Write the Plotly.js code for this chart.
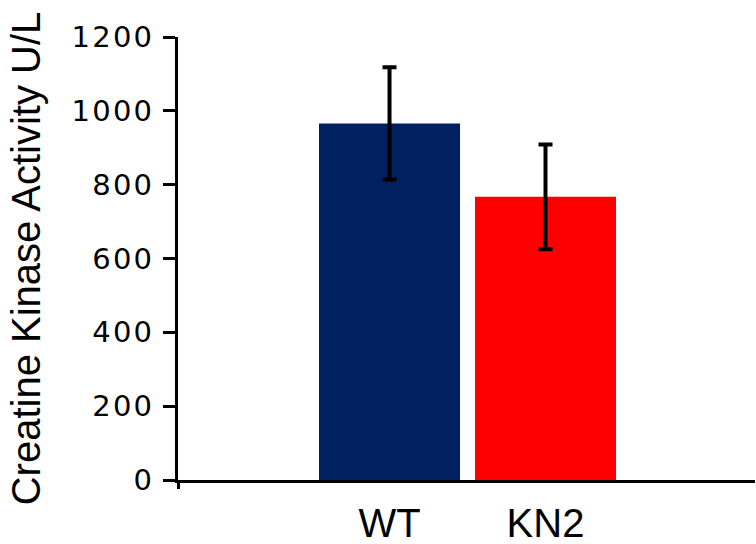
<!DOCTYPE html>
<html>
<head>
<meta charset="utf-8">
<script src="https://cdn.plot.ly/plotly-3.0.1.min.js"></script>
<style>
  html, body { margin: 0; padding: 0; background: #fff; }
  #chart { width: 756px; height: 544px; }
  .ytick text { letter-spacing: 2.2px; }
</style>
</head>
<body>
<div id="chart"></div>
<script>
const categories = ['WT', 'KN2'];
const values = [966, 767];
const errors = [152, 142];
const barColors = ['#002060', '#FF0000'];
const yTickVals = [0, 200, 400, 600, 800, 1000, 1200];
const yTitle = 'Creatine Kinase Activity U/L';

const xRange = [-1.356, 2.343];

const traces = [
  {
    type: 'bar',
    x: categories,
    y: values,
    marker: { color: barColors, line: { width: 0 } },
    error_y: { type: 'data', array: errors, visible: true, color: '#000000', thickness: 4, width: 7 },
    hoverinfo: 'none',
    showlegend: false
  },
  {
    type: 'scatter',
    x: [xRange[0]],
    y: [0],
    xaxis: 'x2',
    mode: 'none',
    hoverinfo: 'none',
    showlegend: false
  }
];

const layout = {
  width: 756,
  height: 544,
  margin: { l: 178, r: 1, t: 37, b: 64, pad: 0 },
  paper_bgcolor: '#ffffff',
  plot_bgcolor: '#ffffff',
  bargap: 0.096,
  showlegend: false,
  xaxis: {
    type: 'category',
    range: xRange,
    showgrid: false,
    zeroline: false,
    showline: true,
    linecolor: '#000000',
    linewidth: 3,
    ticks: '',
    ticklabelstandoff: 6,
    tickfont: { family: 'Liberation Sans, Arial, sans-serif', size: 40, color: '#000000' },
    fixedrange: true
  },
  xaxis2: {
    overlaying: 'x',
    anchor: 'y',
    side: 'bottom',
    range: xRange,
    showgrid: false,
    zeroline: false,
    showline: false,
    tickmode: 'array',
    tickvals: [xRange[0]],
    ticks: 'outside',
    ticklen: 8,
    tickwidth: 3,
    tickcolor: '#000000',
    showticklabels: false,
    fixedrange: true
  },
  yaxis: {
    range: [0, 1200],
    tickmode: 'array',
    tickvals: yTickVals,
    showgrid: false,
    zeroline: false,
    showline: true,
    linecolor: '#000000',
    linewidth: 3,
    ticks: 'outside',
    ticklen: 12,
    tickwidth: 3,
    tickcolor: '#000000',
    ticklabelstandoff: 3,
    tickfont: { family: 'DejaVu Sans, sans-serif', size: 29, color: '#000000' },
    title: {
      text: yTitle,
      font: { family: 'Liberation Sans, Arial, sans-serif', size: 40, color: '#000000' },
      standoff: 19
    },
    fixedrange: true
  }
};

Plotly.newPlot('chart', traces, layout, { staticPlot: true, displayModeBar: false });
</script>
</body>
</html>
